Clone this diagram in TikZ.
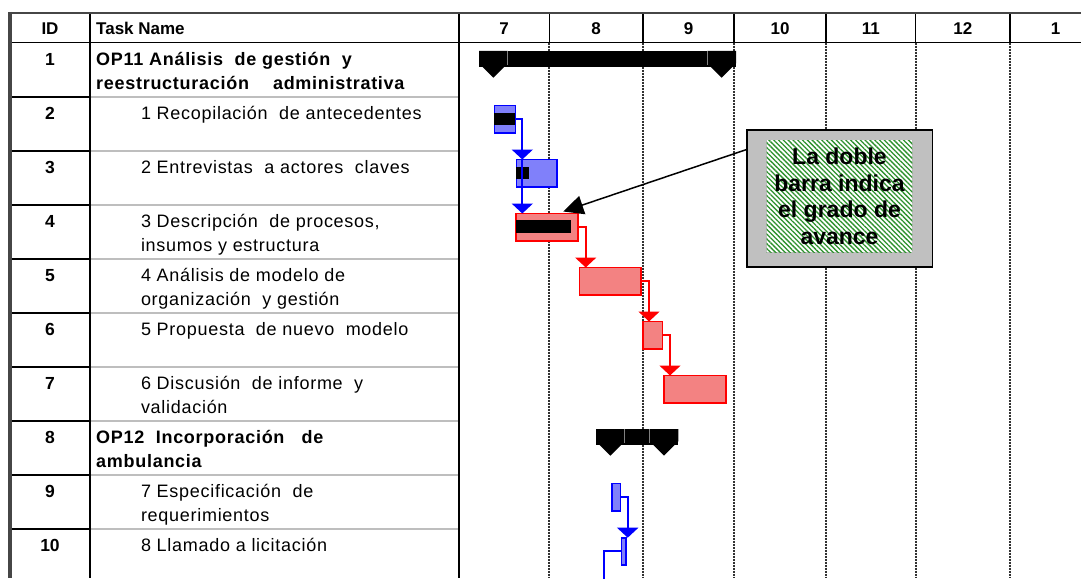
\documentclass[tikz,border=0pt]{standalone}
\usepackage{fontspec}
\setmainfont{Liberation Sans}[LetterSpace=4]
\newfontfamily\plainsans{Liberation Sans}
\usetikzlibrary{arrows.meta,calc,patterns.meta}
\definecolor{mpblue}{RGB}{0,0,255}
\definecolor{mpbluefill}{RGB}{128,128,250}
\definecolor{mpred}{RGB}{255,0,0}
\definecolor{mpredfill}{RGB}{243,130,130}
\definecolor{callgray}{RGB}{192,192,192}
\definecolor{hatchgreen}{RGB}{45,145,45}
\definecolor{gridgray}{RGB}{50,50,50}
\definecolor{sepgray}{RGB}{190,190,190}
\definecolor{framegray}{RGB}{70,70,70}
\newcommand\sumbar[3]{%
  \fill[black] (#1,#3) rectangle (#2,{#3+15.7});
  \fill[black] (#1,#3) -- ({#1+28.7},#3) -- ({#1+28.7},{#3+12.3}) -- ({#1+14.35},{#3+26.7}) -- (#1,{#3+12.3}) -- cycle;
  \fill[black] ({#2-28.7},#3) -- (#2,#3) -- (#2,{#3+12.3}) -- ({#2-14.35},{#3+26.7}) -- ({#2-28.7},{#3+12.3}) -- cycle;
  \draw[gray, line width=0.6pt] ({#1+28.7},#3) -- ({#1+28.7},{#3+14}) ({#2-28.7},#3) -- ({#2-28.7},{#3+14});
}
\begin{document}
\begin{tikzpicture}[x=1pt,y=-1pt,
  gridline/.style={draw=gridgray, line width=1.7pt, dash pattern=on 2pt off 1pt},
  rule/.style={draw=black, line width=1.6pt},
  sepid/.style={draw=black, line width=1.6pt},
  septask/.style={draw=sepgray, line width=1.6pt},
  hdrtxt/.style={anchor=base, inner sep=0, font=\plainsans\bfseries\fontsize{17}{20}\selectfont},
  idtxt/.style={anchor=base, inner sep=0, font=\plainsans\bfseries\fontsize{17.5}{20}\selectfont},
  tasktxt/.style={anchor=base west, inner sep=0, font=\fontsize{18}{20}\selectfont},
  sumtxt/.style={anchor=base west, inner sep=0, font=\bfseries\fontsize{18}{20}\selectfont},
  bar/.style={rectangle, anchor=north west, inner sep=0, outer sep=0, line width=1.6pt},
  bluebar/.style={bar, draw=mpblue, fill=mpbluefill},
  redbar/.style={bar, draw=mpred, fill=mpredfill},
  progbar/.style={rectangle, anchor=north west, inner sep=0, outer sep=0, fill=black},
  blueconn/.style={draw=mpblue, line width=2pt, -{Triangle[width=21pt,length=10pt]}},
  redconn/.style={draw=mpred, line width=2pt, -{Triangle[width=21pt,length=10pt]}},
  callbox/.style={rectangle, anchor=north west, inner sep=0, outer sep=0, draw=black, line width=1.6pt, fill=callgray},
  hatchbox/.style={rectangle, anchor=north west, inner sep=0, outer sep=0, preaction={fill=white}, pattern={Lines[angle=-45,distance=3.4pt,line width=1.3pt]}, pattern color=hatchgreen, align=center, font=\plainsans\bfseries\fontsize{23}{26.7}\selectfont},
  callarrow/.style={draw=black, line width=1.5pt, -{Triangle[width=19pt,length=20pt]}}
]
\useasboundingbox (0,0) rectangle (1081,578);
\clip (0,0) rectangle (1081,578);
\fill[white] (0,0) rectangle (1081,578);

% time grid
\foreach \x in {549.3,643,734,826,915.7,1010} \draw[gridline] (\x,42.7) -- (\x,578);

% row separators
\foreach \i in {1,...,9} {
  \pgfmathsetmacro\yy{42.7+54.03*\i}
  \draw[septask] (90,\yy) -- (459,\yy);
  \draw[sepid] (10,\yy) -- (90,\yy);
}

% frame and header rules
\draw[rule] (10,42.7) -- (1081,42.7);
\foreach \x in {549.3,643,734,826,915.7,1010} \draw[rule, line width=1.3pt] (\x,13) -- (\x,42.7);
\draw[rule] (90,13) -- (90,578);
\draw[rule] (459,13) -- (459,578);
\draw[draw=framegray, line width=2.4pt] (8.4,13) -- (1081,13);
\draw[draw=framegray, line width=3.2pt] (10,11.8) -- (10,578);

% header texts
\node[hdrtxt] (hid) at (50,35) {ID};
\node[hdrtxt, anchor=base west] (htask) at (96,35) {Task Name};
\node[hdrtxt] (h7) at (504.2,35) {7};
\node[hdrtxt] (h8) at (596.2,35) {8};
\node[hdrtxt] (h9) at (688.5,35) {9};
\node[hdrtxt] (h10) at (780,35) {10};
\node[hdrtxt] (h11) at (870.9,35) {11};
\node[hdrtxt] (h12) at (962.9,35) {12};
\node[hdrtxt] (h1) at (1055.5,35) {1};

% IDs
\node[idtxt] (id1) at (50,65.6) {1};
\node[idtxt] (id2) at (50,119.6) {2};
\node[idtxt] (id3) at (50,173.7) {3};
\node[idtxt] (id4) at (50,227.7) {4};
\node[idtxt] (id5) at (50,281.7) {5};
\node[idtxt] (id6) at (50,335.8) {6};
\node[idtxt] (id7) at (50,389.8) {7};
\node[idtxt] (id8) at (50,443.8) {8};
\node[idtxt] (id9) at (50,497.8) {9};
\node[idtxt] (id10) at (50,551.9) {10};

% task names
\node[sumtxt] (t1a) at (96,65.6) {OP11 Análisis\ \ de gestión\ \ y};
\node[sumtxt] (t1b) at (96,89) {reestructuración\hspace{24pt}administrativa};
\node[tasktxt] (t2) at (140.8,119.6) {1 Recopilación\ \ de antecedentes};
\node[tasktxt] (t3) at (140.8,173.7) {2 Entrevistas\ \ a actores\ \ claves};
\node[tasktxt] (t4a) at (140.8,227.7) {3 Descripción\ \ de procesos,};
\node[tasktxt] (t4b) at (140.8,251) {insumos y estructura};
\node[tasktxt] (t5a) at (140.8,281.7) {4 Análisis de modelo de};
\node[tasktxt] (t5b) at (140.8,305) {organización\ \ y gestión};
\node[tasktxt] (t6) at (140.8,335.8) {5 Propuesta\ \ de nuevo\ \ modelo};
\node[tasktxt] (t7a) at (140.8,389.8) {6 Discusión\ \ de informe\ \ y};
\node[tasktxt] (t7b) at (140.8,413.1) {validación};
\node[sumtxt] (t8a) at (96,443.8) {OP12\ \ Incorporación\ \ \ de};
\node[sumtxt] (t8b) at (96,467.1) {ambulancia};
\node[tasktxt] (t9a) at (140.8,497.8) {7 Especificación\ \ de};
\node[tasktxt] (t9b) at (140.8,521.2) {requerimientos};
\node[tasktxt] (t10) at (140.8,551.9) {8 Llamado a licitación};

% summary bars
\sumbar{479}{736}{51}
\sumbar{596}{678.3}{429}

% task bars
\node[bluebar, minimum width=21pt, minimum height=27.5pt] (b2) at (494.3,105.4) {};
\node[bluebar, minimum width=40.4pt, minimum height=27.5pt] (b3) at (516.3,159.5) {};
\node[redbar, minimum width=61.7pt, minimum height=27.5pt] (b4) at (516,213.5) {};
\node[redbar, minimum width=61.7pt, minimum height=27.5pt] (b5) at (579.3,267.5) {};
\node[redbar, minimum width=19.6pt, minimum height=27.5pt] (b6) at (642.7,321.5) {};
\node[redbar, minimum width=62pt, minimum height=27.5pt] (b7) at (663.7,375.5) {};
\node[bluebar, minimum width=8.6pt, minimum height=27.5pt] (b9) at (611.7,483.6) {};
\node[bluebar, minimum width=4.7pt, minimum height=27.5pt] (b10) at (621.3,537.7) {};

% progress bars
\node[progbar, minimum width=21pt, minimum height=12pt] (p2) at (494.3,112.5) {};
\node[progbar, minimum width=12.7pt, minimum height=12.3pt] (p3) at (516.3,166.7) {};
\node[progbar, minimum width=55pt, minimum height=12.7pt] (p4) at (516,220) {};

% links
\draw[blueconn] (b2.east) -| ($(b3.north west)+(6,0)$);
\draw[blueconn] ($(b3.north west)+(6,0)$) -- ($(b4.north west)+(6.3,0)$);
\draw[redconn] (b4.east) -| ($(b5.north west)+(6.4,0)$);
\draw[redconn] (b5.east) -| ($(b6.north west)+(6.3,0)$);
\draw[redconn] (b6.east) -| ($(b7.north west)+(6.3,0)$);
\draw[blueconn] (b9.east) -| ($(b10.north west)+(6.4,0)$);
\coordinate (c10) at (604.3,590);
\draw[draw=mpblue, line width=2pt] (b10.west) -| (c10);

% callout
\node[callbox, minimum width=185.6pt, minimum height=136.7pt] (callout) at (746.7,130) {};
\node[hatchbox, minimum width=145.6pt, minimum height=112.3pt] (hatch) at (766.7,140) {La doble\\barra indica\\el grado de\\avance};
\coordinate (cstart) at ($(callout.north west)+(0,19.5)$);
\coordinate (ctip) at ($(b4.north east)+(-14.4,-2)$);
\draw[callarrow] (cstart) -- (ctip);
\end{tikzpicture}
\end{document}
